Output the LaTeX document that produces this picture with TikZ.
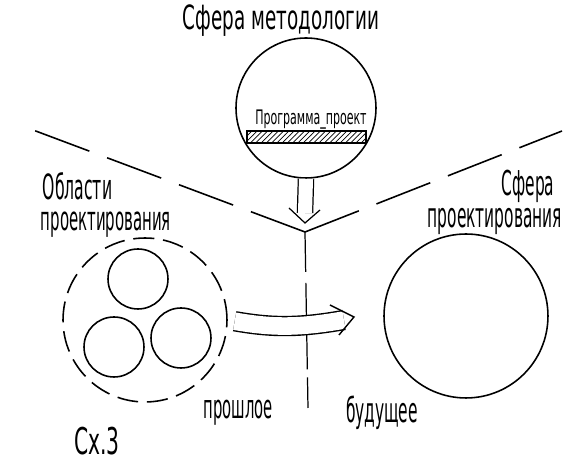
\documentclass[tikz,border=0pt]{standalone}
\usepackage{fontspec}
\newfontfamily\draftfont[FakeStretch=0.45]{DejaVu Sans}
\newfontfamily\titlefont[FakeStretch=0.55]{DejaVu Sans}
\usetikzlibrary{patterns}
\begin{document}
\begin{tikzpicture}[x=0.02cm, y=-0.02cm, line width=0.9pt,
    sphere/.style={circle, draw, inner sep=0pt},
    lbl/.style={inner sep=0pt, anchor=base, font=\draftfont\fontsize{19.5}{21}\selectfont},
    hollow/.style={double, double distance=#1},
    border/.style={dash pattern=on 32.9pt off 10.8pt}]
  \useasboundingbox (0,0) rectangle (566,462);
  \node[sphere, minimum size=2.8cm] (meth) at (306,108) {};
  \node[draw, pattern=north east lines, minimum width=2.38cm, minimum height=0.24cm, inner sep=0pt] (hatch) at (306.5,137) {};
  \node[lbl, font=\titlefont\fontsize{11.4}{12}\selectfont] (prog) at (311,125) {Программа\_проект};
  \node[lbl, font=\titlefont\fontsize{19}{20}\selectfont] (ttl) at (281,30) {Сфера методологии};
  \coordinate (vtx) at (305,232);
  \coordinate (lend) at (33,130);
  \coordinate (rend) at (562,131);
  \coordinate (vend) at (308,408);
  \draw[border] (vtx) -- (lend);
  \draw[border] (vtx) -- (rend);
  \draw[line width=0.7pt, dash pattern=on 22.7pt off 6.2pt on 49.3pt off 4.5pt] (vtx) -- (vend);
  \coordinate (vstop) at (305,213);
  \coordinate (vtip) at (305,223);
  \draw[hollow=8pt, line width=0.7pt] (meth.south) -- (vstop);
  \draw[line width=0.7pt] ([shift={(-16,-15)}]vtip) -- (vtip) -- ([shift={(15,-13)}]vtip);
  \node[sphere, dash pattern=on 12pt off 5pt, minimum size=3.28cm] (areas) at (145,320) {};
  \node[sphere, minimum size=1.2cm] (a1) at (138,279) {};
  \node[sphere, minimum size=1.2cm] (a2) at (114,347) {};
  \node[sphere, minimum size=1.2cm] (a3) at (181,338) {};
  \node[sphere, minimum size=3.28cm] (design) at (466,316) {};
  \coordinate (fut) at (344,320);
  \coordinate (ftip) at (354,317);
  \draw[hollow=10pt, line width=0.8pt, shorten <=4pt] (areas.east) to[bend right=10] (fut);
  \draw[line width=0.8pt] ([shift={(-24,-12)}]ftip) -- (ftip) -- ([shift={(-15,18)}]ftip);
  \node[lbl, anchor=base west, font=\draftfont\fontsize{19.8}{21}\selectfont] (obl) at (42,200) {Области};
  \node[lbl, anchor=base west, font=\draftfont\fontsize{18.9}{21}\selectfont] (proj1) at (40,231) {проектирования};
  \node[lbl] (sf) at (528,196) {Сфера};
  \node[lbl] (proj2) at (495,228) {проектирования};
  \node[lbl, font=\draftfont\fontsize{18.7}{21}\selectfont] (past) at (238,419) {прошлое};
  \node[lbl] (future) at (382,423) {будущее};
  \node[lbl, font=\titlefont\fontsize{21}{23}\selectfont] (cx) at (97,455) {Сх.3};
\end{tikzpicture}
\end{document}
